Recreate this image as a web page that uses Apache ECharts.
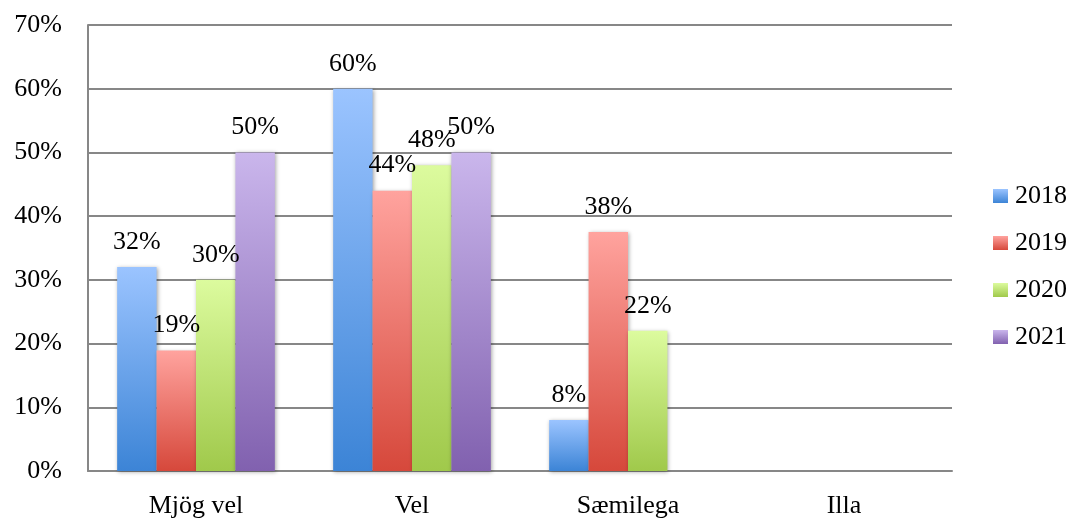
<!DOCTYPE html>
<html>
<head>
<meta charset="utf-8">
<script src="https://cdn.jsdelivr.net/npm/echarts@6/dist/echarts.min.js"></script>
<style>
	html, body { margin: 0; padding: 0; background: #fff; }
	#chart { width: 1077px; height: 529px; }
</style>
</head>
<body>
<div id="chart"></div>
<script>
var categories = ['Mjög vel', 'Vel', 'Sæmilega', 'Illa'];
var years = ['2018', '2019', '2020', '2021'];
var values2018 = [32, 60, 8, null];
var values2019 = [18.9, 44, 37.5, null];
var values2020 = [30, 48, 22, null];
var values2021 = [50, 50, null, null];

window.onload = function () {
	"use strict";
	var chart = echarts.init(document.getElementById('chart'));
	var font = '"Liberation Serif", serif';

	// top / bottom colours of each year's gradient
	var shades = [
		['#9bc4ff', '#3c84d6'],
		['#ffa39e', '#d6483b'],
		['#dcfb9e', '#a0c94b'],
		['#cab6ec', '#8161af']
	];
	var allValues = [values2018, values2019, values2020, values2021];

	var series = years.map(function (y, i) {
		return {
			name: y,
			type: 'bar',
			barGap: '0%',
			barCategoryGap: '27%',
			itemStyle: {
				color: new echarts.graphic.LinearGradient(0, 0, 0, 1, [
					{ offset: 0, color: shades[i][0] },
					{ offset: 1, color: shades[i][1] }
				]),
				shadowBlur: 4,
				shadowColor: 'rgba(0,0,0,0.35)',
				shadowOffsetX: 1,
				shadowOffsetY: 1
			},
			label: {
				show: true,
				position: 'top',
				distance: 12,
				fontFamily: font,
				fontSize: 26,
				color: '#000',
				formatter: function (p) {
					return Math.round(p.value) + '%';
				}
			},
			data: allValues[i]
		};
	});

	var option = {
		animation: false,
		backgroundColor: '#fff',
		grid: {
			left: 88,
			right: 125,
			top: 25,
			bottom: 58
		},
		legend: {
			orient: 'vertical',
			left: 988,
			top: 178,
			itemWidth: 15,
			itemHeight: 14,
			itemGap: 21,
			icon: 'rect',
			textStyle: {
				fontFamily: font,
				fontSize: 26,
				color: '#000',
				padding: [0, 0, 0, 2]
			},
			data: years
		},
		xAxis: {
			type: 'category',
			data: categories,
			axisLine: { show: true, lineStyle: { color: '#878787', width: 2 } },
			axisTick: { show: false },
			axisLabel: {
				margin: 22,
				fontFamily: font,
				fontSize: 26,
				color: '#000'
			}
		},
		yAxis: {
			type: 'value',
			min: 0,
			max: 70,
			interval: 10,
			axisLine: { show: true, lineStyle: { color: '#878787', width: 2 } },
			axisTick: { show: false },
			splitLine: { lineStyle: { color: '#878787', width: 2 } },
			axisLabel: {
				margin: 26,
				fontFamily: font,
				fontSize: 26,
				color: '#000',
				formatter: '{value}%'
			}
		},
		series: series
	};

	chart.setOption(option);
};
</script>
</body>
</html>
